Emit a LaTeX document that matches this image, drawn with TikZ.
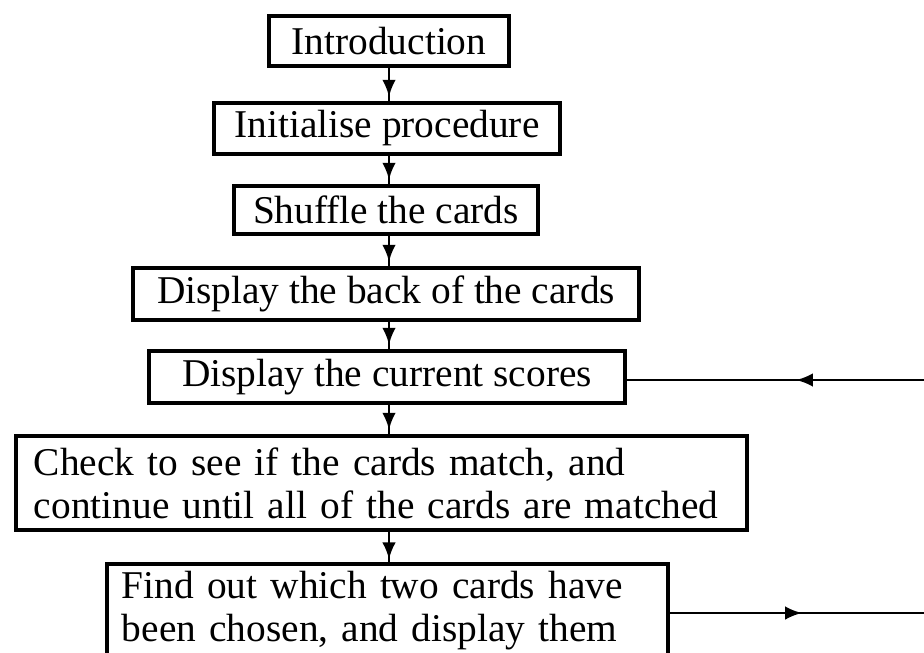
\documentclass[tikz,border=0pt]{standalone}
\usepackage{fontspec}
\setmainfont{Liberation Serif}
\usetikzlibrary{arrows.meta,decorations.markings}

\begin{document}
\begin{tikzpicture}[x=0.25mm, y=-0.25mm,
        box/.style={draw, line width=0.8mm, inner sep=0pt, font=\fontsize{28}{30.5}\selectfont},
        twoline/.style={box, align=left, text width=#1, minimum height=23.5mm},
        flow/.style={line width=0.6mm, postaction={decorate},
            decoration={markings, mark=at position #1 with {\arrow{Latex[length=4.2mm,width=3.4mm]}}}}]
            \useasboundingbox (0,0) rectangle (924,652);
            \clip (0,0) rectangle (924,652);

            \node[box, minimum width=60mm, minimum height=12.5mm] (intro) at (389,41) {Introduction};
            \node[box, minimum width=86.5mm, minimum height=12.75mm] (init) at (387,128.5) {Initialise procedure};
            \node[box, minimum width=76mm, minimum height=12mm] (shuffle) at (386,210) {Shuffle the cards};
            \node[box, minimum width=126.5mm, minimum height=13mm] (back) at (386,294) {Display the back of the cards};
            \node[box, minimum width=119mm, minimum height=13mm] (scores) at (387,377) {Display the current scores};
            \node[twoline=173.75mm, inner xsep=4.5mm] (check) at (381.5,483)
                {Check to see if the cards match, and\\continue until all of the cards are matched};
            \node[twoline=132.75mm, inner xsep=3.75mm] (find) at (387.5,611)
                {Find out which two cards have\\been chosen, and display them};

            \draw[flow=-1.2mm] (intro.south) -- (init.north -| intro.south);
            \draw[flow=-1.2mm] (init.south -| intro.south) -- (shuffle.north -| intro.south);
            \draw[flow=-1.2mm] (shuffle.south -| intro.south) -- (back.north -| intro.south);
            \draw[flow=-1.2mm] (back.south -| intro.south) -- (scores.north -| intro.south);
            \draw[flow=-1.2mm] (scores.south -| intro.south) -- (check.north -| intro.south);
            \draw[flow=-0.8mm] (check.south -| intro.south) -- (find.north -| intro.south);

            \coordinate (loopin) at (924,380);
            \coordinate (loopout) at (924,613);
            \draw[flow=0.43] (loopin) -- (loopin -| scores.east);
            \draw[flow=0.52] (find.east |- loopout) -- (loopout);
        \end{tikzpicture}
\end{document}
